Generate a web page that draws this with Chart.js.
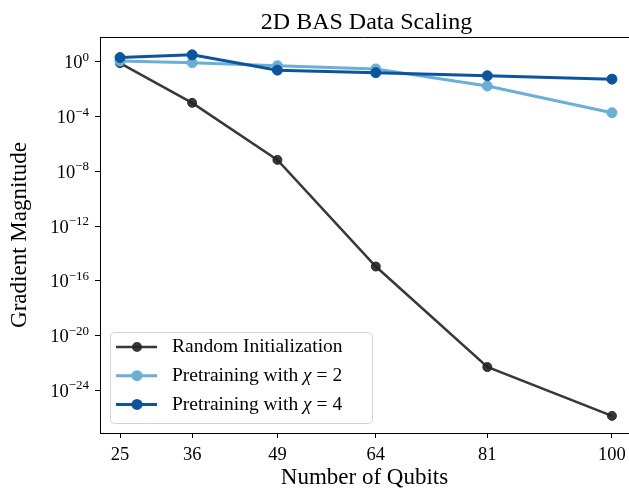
<!DOCTYPE html>
<html>
<head>
<meta charset="utf-8">
<script src="https://cdn.jsdelivr.net/npm/chart.js@4.4.0/dist/chart.umd.min.js"></script>
<style>
  html, body { margin: 0; padding: 0; background: #fff; }
  #wrap { width: 629px; height: 489px; }
</style>
</head>
<body>
<div id="wrap"><canvas id="chart" width="629" height="489"></canvas></div>
<script>
// Data
const qubits = [25, 36, 49, 64, 81, 100];
const randomInit = [0.8, 1e-3, 6.8e-8, 1.1e-15, 5e-23, 1.35e-26];
const chi2 = [1.12, 0.85, 0.51, 0.30, 0.017, 1.9e-4];
const chi4 = [2.04, 3.2, 0.245, 0.16, 0.095, 0.054];
const yTickExps = [0, -4, -8, -12, -16, -20, -24];
const seriesLabels = ['Random Initialization', 'Pretraining with ', 'Pretraining with '];
const chiValues = [null, '2', '4'];
const titleText = '2D BAS Data Scaling';

const FONT = "'Liberation Serif', 'DejaVu Serif', serif";
const colors = ['rgba(34,34,34,0.9)', '#6baed6', '#0b559f'];

const toPoints = (vals) => vals.map((v, i) => ({ x: qubits[i], y: v }));

// tick labels: x drawn by hand so the axes can run to the canvas edge,
// y drawn as 10 with a raised exponent, like mathtext
const tickLabelsPlugin = {
    id: 'tickLabels',
    afterDraw(chart) {
        const { ctx } = chart;
        const x = chart.scales.x;
        const y = chart.scales.y;
        ctx.save();
        ctx.fillStyle = '#000';
        ctx.textBaseline = 'alphabetic';

        ctx.font = '18.5px ' + FONT;
        ctx.textAlign = 'center';
        qubits.forEach(q => {
            ctx.fillText(String(q), x.getPixelForValue(q), x.top + 26.5);
        });

        const right = y.right - 11;
        yTickExps.forEach(e => {
            const py = y.getPixelForValue(Math.pow(10, e));
            const expStr = e < 0 ? '\u2212' + Math.abs(e) : String(e);
            ctx.font = '13px ' + FONT;
            const ew = ctx.measureText(expStr).width;
            ctx.textAlign = 'left';
            ctx.fillText(expStr, right - ew, py - 1);
            ctx.font = '18.5px ' + FONT;
            ctx.textAlign = 'right';
            ctx.fillText('10', right - ew, py + 6.5);
        });
        ctx.restore();
    }
};

// title centred on the axes, top spine, legend with line-and-marker swatches
const framePlugin = {
    id: 'frame',
    afterDatasetsDraw(chart) {
        const { ctx, chartArea } = chart;
        ctx.save();
        ctx.strokeStyle = '#000';
        ctx.lineWidth = 1;
        ctx.beginPath();
        ctx.moveTo(chartArea.left, chartArea.top + 0.5);
        ctx.lineTo(chartArea.right, chartArea.top + 0.5);
        ctx.stroke();

        ctx.fillStyle = '#000';
        ctx.font = '24px ' + FONT;
        ctx.textAlign = 'center';
        ctx.textBaseline = 'alphabetic';
        ctx.fillText(titleText, (chartArea.left + chartArea.right) / 2 + 2, 28.5);

        const bx = chartArea.left + 10, by = chartArea.bottom - 101, bw = 262, bh = 91;
        ctx.fillStyle = 'rgba(255,255,255,0.85)';
        ctx.strokeStyle = '#d4d4d4';
        ctx.beginPath();
        ctx.roundRect(bx + 0.5, by + 0.5, bw, bh, 4);
        ctx.fill();
        ctx.stroke();

        seriesLabels.forEach((label, i) => {
            const cy = by + 15 + i * 28.7;
            ctx.strokeStyle = colors[i];
            ctx.lineWidth = i === 0 ? 2.5 : 3;
            ctx.beginPath();
            ctx.moveTo(bx + 6, cy);
            ctx.lineTo(bx + 47, cy);
            ctx.stroke();
            ctx.fillStyle = colors[i];
            ctx.beginPath();
            ctx.arc(bx + 27, cy, i === 0 ? 5 : 5.5, 0, Math.PI * 2);
            ctx.fill();

            ctx.fillStyle = '#000';
            ctx.textBaseline = 'middle';
            ctx.textAlign = 'left';
            ctx.font = '19.5px ' + FONT;
            let tx = bx + 62;
            ctx.fillText(label, tx, cy);
            if (chiValues[i]) {
                tx += ctx.measureText(label).width;
                ctx.font = 'italic 19.5px ' + FONT;
                ctx.fillText('\u03c7', tx, cy);
                tx += ctx.measureText('\u03c7').width;
                ctx.font = '19.5px ' + FONT;
                ctx.fillText(' = ' + chiValues[i], tx, cy);
            }
        });
        ctx.restore();
    }
};

new Chart(document.getElementById('chart').getContext('2d'), {
    type: 'line',
    data: {
        datasets: [
            { label: 'Random Initialization', data: toPoints(randomInit), borderColor: colors[0], backgroundColor: colors[0], borderWidth: 2.5, pointRadius: 4.5, pointBorderWidth: 1, order: 2 },
            { label: 'Pretraining with \u03c7 = 2', data: toPoints(chi2), borderColor: colors[1], backgroundColor: colors[1], borderWidth: 3, pointRadius: 5, pointBorderWidth: 1, order: 1 },
            { label: 'Pretraining with \u03c7 = 4', data: toPoints(chi4), borderColor: colors[2], backgroundColor: colors[2], borderWidth: 3, pointRadius: 5, pointBorderWidth: 1, order: 0 }
        ]
    },
    options: {
        responsive: false,
        animation: false,
        layout: { autoPadding: false, padding: { left: 0, right: 0, top: 37, bottom: 0 } },
        plugins: {
            legend: { display: false },
            tooltip: { enabled: false },
            title: { display: false }
        },
        scales: {
            x: {
                type: 'linear',
                min: 21.95,
                max: 102.6,
                afterBuildTicks: (scale) => { scale.ticks = qubits.map(v => ({ value: v })); },
                afterFit: (scale) => { scale.height = 56; scale.paddingRight = 0; scale.paddingLeft = 0; },
                ticks: { display: false },
                grid: { drawOnChartArea: false, tickLength: 5, color: '#000' },
                border: { display: true, color: '#000', width: 1 },
                title: { display: true, text: 'Number of Qubits', color: '#000', font: { family: FONT, size: 23 }, padding: { bottom: -3 } }
            },
            y: {
                type: 'logarithmic',
                min: Math.pow(10, -27.12),
                max: Math.pow(10, 1.81),
                afterBuildTicks: (scale) => { scale.ticks = yTickExps.map(e => ({ value: Math.pow(10, e) })); },
                afterFit: (scale) => { scale.width = 100; scale.paddingTop = 0; scale.paddingBottom = 0; },
                ticks: { display: false },
                grid: { drawOnChartArea: false, tickLength: 5, color: '#000' },
                border: { display: true, color: '#000', width: 1 },
                title: { display: true, text: 'Gradient Magnitude', color: '#000', font: { family: FONT, size: 23 }, padding: { top: 6 } }
            }
        }
    },
    plugins: [tickLabelsPlugin, framePlugin]
});
</script>
</body>
</html>
